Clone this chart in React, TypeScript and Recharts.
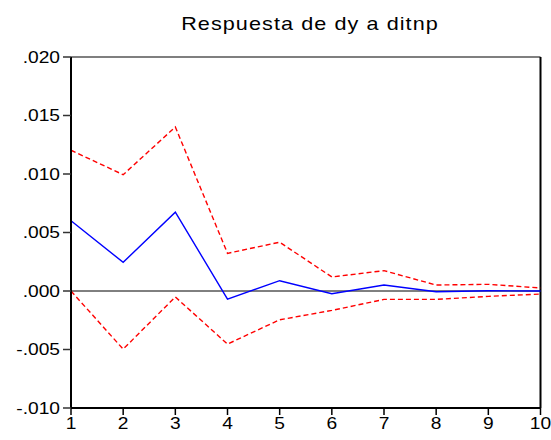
import React from 'react';
import { LineChart, Line, XAxis, YAxis, ReferenceLine } from 'recharts';

const periods = [1, 2, 3, 4, 5, 6, 7, 8, 9, 10];
const response = [0.006, 0.00245, 0.00674, -0.00069, 0.00088, -0.00023, 0.00051, -0.00006, 0.00002, 0.0];
const upper = [0.01203, 0.00994, 0.01402, 0.00322, 0.00417, 0.0012, 0.00174, 0.00051, 0.00057, 0.00026];
const lower = [0.0, -0.00497, -0.00051, -0.00454, -0.00246, -0.00166, -0.00072, -0.00072, -0.00046, -0.00026];
const yTicks = [-0.01, -0.005, 0, 0.005, 0.01, 0.015, 0.02];
const title = 'Respuesta de dy a ditnp';

const data = periods.map((p, i) => ({ p, response: response[i], upper: upper[i], lower: lower[i] }));

const fmt = (v: number) => {
  const s = Math.abs(v).toFixed(3).replace(/^0/, '');
  return (v < -1e-9 ? '-' : '') + s;
};

const FONT = '"Liberation Sans", Arial, sans-serif';

const YTick = (props: any) => {
  const { x, y, payload } = props;
  return (
    <text transform={`translate(${x},${y}) scale(1.2,1)`} x={0} y={0} dy={5.8} textAnchor="end" fontSize={16} fontFamily={FONT} fill="#000">
      {fmt(payload.value)}
    </text>
  );
};

const XTick = (props: any) => {
  const { x, y, payload } = props;
  return (
    <text transform={`translate(${x},${y}) scale(1.2,1)`} x={0} y={0} dy={11.5} textAnchor="middle" fontSize={16} fontFamily={FONT} fill="#000">
      {String(payload.value)}
    </text>
  );
};

export default function App() {
  return (
    <div style={{ position: 'absolute', left: 0, top: 0, width: 551, height: 440, background: '#fff' }}>
      <svg width={551} height={40} style={{ position: 'absolute', left: 0, top: 0 }}>
        <text transform="translate(310,29.5) scale(1.2,1)" x={0} y={0} textAnchor="middle" fontSize={18} fontFamily={FONT} fill="#000" letterSpacing={0.9}>
          {title}
        </text>
      </svg>
      <LineChart width={551} height={440} data={data} margin={{ top: 57, right: 10.5, bottom: 2, left: 0 }}>
        <XAxis
          dataKey="p"
          type="number"
          domain={[1, 10]}
          ticks={periods}
          height={30}
          tickSize={7}
          tickMargin={2}
          axisLine={{ stroke: '#000', strokeWidth: 2 }}
          tickLine={{ stroke: '#000', strokeWidth: 1.5 }}
          tick={<XTick />}
          interval={0}
        />
        <YAxis
          type="number"
          domain={[-0.01, 0.02]}
          ticks={yTicks}
          width={71}
          tickSize={8}
          tickMargin={3}
          axisLine={{ stroke: '#000', strokeWidth: 2 }}
          tickLine={{ stroke: '#333', strokeWidth: 1.5 }}
          tick={<YTick />}
          interval={0}
        />
        <ReferenceLine y={0.02} stroke="#000" strokeWidth={1.2} />
        <ReferenceLine x={10} stroke="#000" strokeWidth={2} />
        <ReferenceLine y={0} stroke="#000" strokeWidth={1} />
        <Line dataKey="upper" stroke="#ff0000" strokeWidth={1.4} strokeDasharray="5 3" dot={false} isAnimationActive={false} />
        <Line dataKey="lower" stroke="#ff0000" strokeWidth={1.4} strokeDasharray="5 3" dot={false} isAnimationActive={false} />
        <Line dataKey="response" stroke="#0000ff" strokeWidth={1.4} dot={false} isAnimationActive={false} />
      </LineChart>
    </div>
  );
}
